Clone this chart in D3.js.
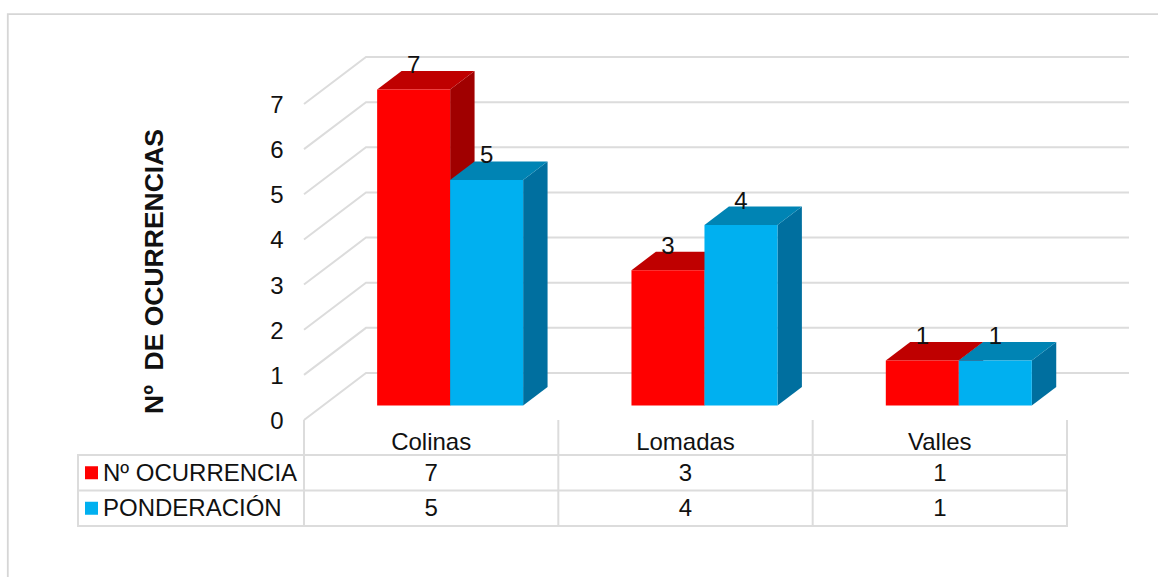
<!DOCTYPE html>
<html>
<head>
<meta charset="utf-8">
<script src="https://d3js.org/d3.v7.min.js"></script>
<style>
html,body{margin:0;padding:0;background:#fff;}
svg{display:block;}
text{font-family:"Liberation Sans",Arial,sans-serif;fill:#111;}
</style>
</head>
<body>
<svg id="chart" width="1158" height="577"></svg>
<script>
// Occurrences per landform, with the weighting shown beside it
const categories = ["Colinas", "Lomadas", "Valles"];
const seriesNames = ["Nº OCURRENCIA", "PONDERACIÓN"];
const ocurrencias = [7, 3, 1];
const ponderacion = [5, 4, 1];
const yTicks = [0, 1, 2, 3, 4, 5, 6, 7];
const axisTitle = "Nº  DE OCURRENCIAS";
const seriesColors = ["#ff0000", "#00b0f0"];
const topColors = ["#bf0000", "#0084b4"];
const sideColors = ["#a00000", "#006f9f"];
const gridColor = "#dcdcdc";

const seriesValues = [ocurrencias, ponderacion];

const svg = d3.select("#chart");

// Front plane of the box; the back plane is offset by the depth vector
const x = d3.scaleBand().domain(categories).range([304, 1067]);
const y = d3.scaleLinear().domain([0, 7]).range([420, 104]);
const depthX = 62, depthY = -47;
const barFront = 0.306, barBack = 0.70;
const groupWidth = 146;
const inner = d3.scaleBand().domain(d3.range(seriesNames.length)).range([0, groupWidth]);

// Projects a plot position and a depth fraction (0 front, 1 back) to the page
const px = (xv, t) => xv + depthX * t;
const py = (v, t) => y(v) + depthY * t;
const barX = (c, s) => x(c) + (x.bandwidth() - groupWidth) / 2 + inner(s);

// Outer frame, open at the bottom and running off the right edge
svg.append("path")
  .attr("d", "M7.8,577V14.2H1158")
  .attr("fill", "none").attr("stroke", "#d6d6d6").attr("stroke-width", 1.8);

// Gridlines across the side wall and back wall
const grid = svg.append("g").attr("fill", "none").attr("stroke", gridColor).attr("stroke-width", 2);
grid.selectAll("path").data(yTicks).join("path")
  .attr("d", d => d3.line()([
    [px(304, 0), py(d, 0)],
    [px(304, 1), py(d, 1)],
    [px(1067, 1), py(d, 1)]
  ]));

// Value axis labels
svg.append("g").attr("font-size", 24).attr("text-anchor", "middle")
  .selectAll("text").data(yTicks).join("text")
  .attr("x", 277).attr("y", d => y(d) + 9).text(d => d);

// Axis title
svg.append("text")
  .attr("transform", "translate(162.5,271.5) rotate(-90)")
  .attr("text-anchor", "middle").attr("font-size", 26.5).attr("font-weight", "bold")
  .style("white-space", "pre")
  .text(axisTitle);

// Three-faced columns, drawn one category at a time
const bars = svg.append("g");
categories.forEach((c, ci) => {
  seriesNames.forEach((_, s) => {
    const v = seriesValues[s][ci];
    const x0 = barX(c, s), x1 = x0 + inner.bandwidth();
    const line = d3.line();
    const g = bars.append("g");
    g.append("path").attr("fill", sideColors[s]).attr("d", line([
      [px(x1, barFront), py(0, barFront)], [px(x1, barBack), py(0, barBack)],
      [px(x1, barBack), py(v, barBack)], [px(x1, barFront), py(v, barFront)]
    ]) + "Z");
    g.append("path").attr("fill", topColors[s]).attr("d", line([
      [px(x0, barFront), py(v, barFront)], [px(x1, barFront), py(v, barFront)],
      [px(x1, barBack), py(v, barBack)], [px(x0, barBack), py(v, barBack)]
    ]) + "Z");
    g.append("path").attr("fill", seriesColors[s]).attr("d", line([
      [px(x0, barFront), py(0, barFront)], [px(x1, barFront), py(0, barFront)],
      [px(x1, barFront), py(v, barFront)], [px(x0, barFront), py(v, barFront)]
    ]) + "Z");
  });
});

// Value labels above each column
const labels = svg.append("g").attr("font-size", 24).attr("text-anchor", "middle");
categories.forEach((c, ci) => {
  seriesNames.forEach((_, s) => {
    const v = seriesValues[s][ci];
    labels.append("text")
      .attr("x", px(barX(c, s) + inner.bandwidth() / 2, barFront))
      .attr("y", py(v, barFront) - 16.5)
      .text(v);
  });
});

// Data table under the plot
const rowY = [455, 490.5, 526];
const tableLeft = 78;
const table = svg.append("g").attr("stroke", gridColor).attr("stroke-width", 2);
rowY.forEach(ry => {
  table.append("line").attr("x1", tableLeft - 1).attr("x2", 1068).attr("y1", ry).attr("y2", ry);
});
table.append("line").attr("x1", tableLeft).attr("x2", tableLeft).attr("y1", rowY[0]).attr("y2", rowY[2]);
[...categories.map(c => x(c)), 1067].forEach(vx => {
  table.append("line").attr("x1", vx).attr("x2", vx).attr("y1", y(0)).attr("y2", rowY[2]);
});

const tableText = svg.append("g").attr("font-size", 24);
tableText.selectAll(".cat").data(categories).join("text").attr("class", "cat")
  .attr("text-anchor", "middle")
  .attr("x", d => x(d) + x.bandwidth() / 2).attr("y", 450).text(d => d);

seriesNames.forEach((name, s) => {
  const cy = (rowY[s] + rowY[s + 1]) / 2;
  svg.append("rect").attr("x", 85).attr("y", cy - 6.5).attr("width", 13).attr("height", 13)
    .attr("fill", seriesColors[s]);
  tableText.append("text").attr("x", 103).attr("y", cy + 8).text(name);
  categories.forEach((c, ci) => {
    tableText.append("text").attr("text-anchor", "middle")
      .attr("x", x(c) + x.bandwidth() / 2).attr("y", cy + 8)
      .text(seriesValues[s][ci]);
  });
});
</script>
</body>
</html>
